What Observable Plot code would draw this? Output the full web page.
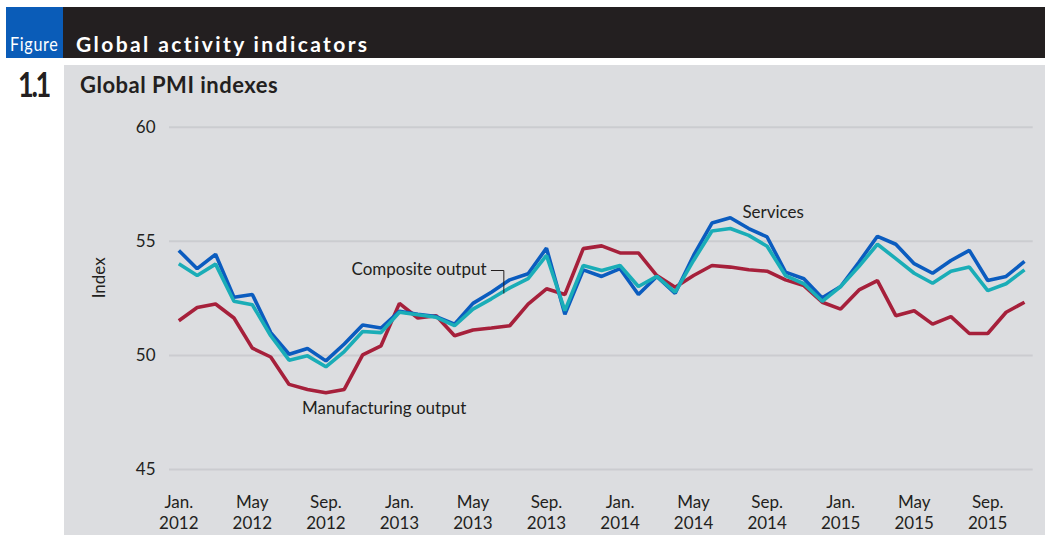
<!DOCTYPE html>
<html>
<head>
<meta charset="utf-8">
<script src="https://cdn.jsdelivr.net/npm/d3@7"></script>
<script src="https://cdn.jsdelivr.net/npm/@observablehq/plot@0.6"></script>
<style>
  html, body { margin: 0; padding: 0; background: #ffffff; }
  #page { position: relative; width: 1045px; height: 535px; overflow: hidden; }
  .abs { position: absolute; white-space: nowrap; line-height: 1; }
  #bluebox { left: 6px; top: 7px; width: 57px; height: 51px; background: #0a5cb8; }
  #blackbar { left: 63px; top: 7px; right: 0; height: 51px; background: #231f20; }
  #panel { left: 64px; top: 65px; right: 0; bottom: 0; background: #dcdde0; }
  #figlabel { left: 10px; top: 32.4px; color: #fff; font: 19px Lato, sans-serif; letter-spacing: 0.8px; transform: scaleX(0.85); transform-origin: left center; }
  #figtitle { left: 76px; top: 31px; color: #fff; font: bold 21px Lato, sans-serif; letter-spacing: 2.4px; }
  #fignum { left: 18px; top: 62.8px; color: #231f20; font: bold 34px Lato, sans-serif; letter-spacing: -3px; transform: scaleX(0.8); transform-origin: left center; }
  #subtitle { left: 80px; top: 71.2px; color: #231f20; font: bold 22px Lato, sans-serif; letter-spacing: 0.5px; }
  #chart { position: absolute; left: 0; top: 0; }
</style>
</head>
<body>
<div id="page">
  <div class="abs" id="bluebox"></div>
  <div class="abs" id="blackbar"></div>
  <div class="abs" id="panel"></div>
  <div class="abs" id="figlabel">Figure</div>
  <div class="abs" id="figtitle">Global activity indicators</div>
  <div class="abs" id="fignum">1.1</div>
  <div class="abs" id="subtitle">Global PMI indexes</div>
  <div id="chart"></div>
</div>
<script>
// Months: index 0 = Jan. 2012 ... index 46 = Nov. 2015
const services = [54.6, 53.8, 54.43, 52.55, 52.67, 51.0, 50.05, 50.3, 49.76, 50.5, 51.33, 51.2,
  51.93, 51.8, 51.7, 51.37, 52.28, 52.77, 53.31, 53.58, 54.7, 51.8, 53.75, 53.46,
  53.8, 52.67, 53.46, 52.72, 54.38, 55.8, 56.03, 55.56, 55.19, 53.65, 53.36, 52.52,
  53.02, 54.09, 55.22, 54.87, 54.02, 53.6, 54.16, 54.6, 53.28, 53.46, 54.12];
const composite = [54.02, 53.5, 54.0, 52.37, 52.22, 50.86, 49.79, 49.98, 49.5, 50.17, 51.05, 51.0,
  51.89, 51.78, 51.67, 51.3, 52.03, 52.48, 52.96, 53.36, 54.38, 51.96, 53.94, 53.72,
  53.94, 53.02, 53.46, 52.77, 54.16, 55.45, 55.56, 55.26, 54.78, 53.5, 53.14, 52.37,
  53.02, 53.9, 54.87, 54.24, 53.6, 53.16, 53.69, 53.87, 52.84, 53.14, 53.75];
const manufacturing = [51.52, 52.1, 52.25, 51.64, 50.32, 49.93, 48.73, 48.51, 48.36, 48.51, 50.02, 50.42,
  52.28, 51.64, 51.74, 50.86, 51.11, 51.2, 51.3, 52.25, 52.92, 52.67, 54.68, 54.8,
  54.49, 54.49, 53.5, 52.99, 53.5, 53.94, 53.87, 53.75, 53.69, 53.31, 53.06, 52.33,
  52.03, 52.87, 53.28, 51.74, 51.96, 51.37, 51.7, 50.96, 50.96, 51.89, 52.33];

const xTicks = [0, 4, 8, 12, 16, 20, 24, 28, 32, 36, 40, 44];
const xTickLabels = ["Jan.\n2012", "May\n2012", "Sep.\n2012", "Jan.\n2013", "May\n2013", "Sep.\n2013",
  "Jan.\n2014", "May\n2014", "Sep.\n2014", "Jan.\n2015", "May\n2015", "Sep.\n2015"];
const yTicks = [45, 50, 55, 60];

const seriesNames = ["Manufacturing output", "Services", "Composite output"];
const seriesColors = ["#a6203b", "#0b5cbf", "#1aadb7"];

// annotations (data coordinates: month index, index value)
const labelTexts = ["Services", "Composite output", "Manufacturing output"];
const labelX = [32.33, 16.74, 11.17];
const labelY = [56.28, 53.76, 47.69];
const labelAnchor = ["middle", "end", "middle"];
const leaderX = [17.0, 17.68, 17.68];
const leaderY = [53.72, 53.72, 52.73];

const rows = [];
[manufacturing, services, composite].forEach((arr, s) => {
  arr.forEach((v, i) => rows.push({series: seriesNames[s], i, v}));
});
const labels = labelTexts.map((t, k) => ({t, x: labelX[k], y: labelY[k], a: labelAnchor[k]}));
const leader = leaderX.map((x, k) => ({x, y: leaderY[k]}));

const ink = "#231f20";

const chart = Plot.plot({
  width: 1045,
  height: 535,
  marginTop: 126.7,
  marginBottom: 66,
  marginLeft: 169,
  marginRight: 12.3,
  style: {background: "transparent", fontFamily: "Lato, sans-serif", fontSize: "17px", color: ink},
  x: {domain: [0, 46], range: [178.3, 1024], axis: null},
  y: {domain: [45, 60], axis: null},
  marks: [
    Plot.gridY(yTicks, {stroke: "#cbccd0", strokeOpacity: 1, strokeWidth: 2}),
    Plot.axisY(yTicks, {tickSize: 0, tickPadding: 14, fontSize: 17, label: null, fill: ink}),
    Plot.axisX(xTicks, {
      tickSize: 0, tickPadding: 24, label: null, fill: ink,
      tickFormat: (d) => xTickLabels[xTicks.indexOf(d)],
      fontSize: 17, lineHeight: 1.22
    }),
    Plot.text(["Index"], {frameAnchor: "left", dx: -70, rotate: -90, fontSize: 17, fill: ink}),
    ...seriesNames.map((name, s) =>
      Plot.line(rows.filter((r) => r.series === name), {
        x: "i", y: "v", stroke: seriesColors[s], strokeWidth: 3.6,
        strokeLinejoin: "miter", strokeLinecap: "butt"
      })
    ),
    Plot.line(leader, {x: "x", y: "y", stroke: ink, strokeWidth: 1, strokeLinejoin: "miter"}),
    Plot.text(labels, {x: "x", y: "y", text: "t", textAnchor: "middle", fontSize: 17, fill: ink,
      filter: (d) => d.a === "middle"}),
    Plot.text(labels, {x: "x", y: "y", text: "t", textAnchor: "end", fontSize: 17, fill: ink,
      filter: (d) => d.a === "end"})
  ]
});
document.getElementById("chart").appendChild(chart);
</script>
</body>
</html>
